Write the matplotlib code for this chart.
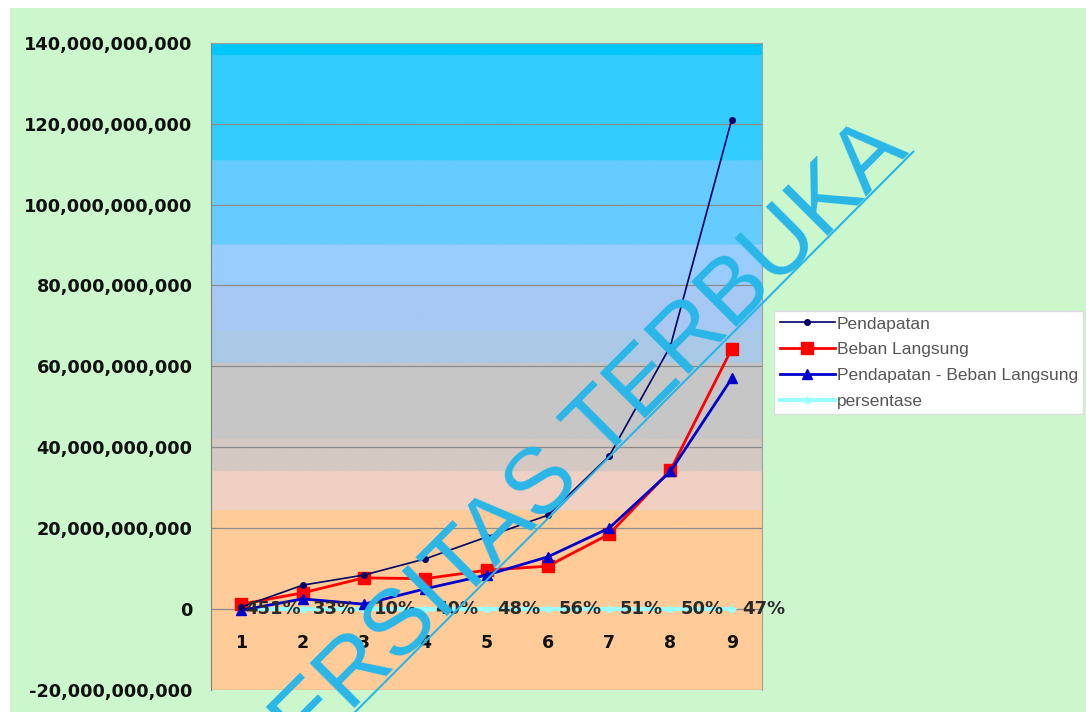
import numpy as np
import matplotlib.pyplot as plt
from matplotlib.colors import to_rgb
from matplotlib.ticker import FuncFormatter

plt.rcParams['font.family'] = ['Liberation Sans', 'DejaVu Sans']

periode = [1, 2, 3, 4, 5, 6, 7, 8, 9]
pendapatan = [0.5e9, 5.9e9, 8.4e9, 12.4e9, 17.8e9, 23.2e9, 37.8e9, 65.0e9, 121.0e9]
beban = [1.2e9, 4.0e9, 7.7e9, 7.5e9, 9.6e9, 10.6e9, 18.5e9, 34.3e9, 64.3e9]
selisih = [-0.3e9, 2.5e9, 1.2e9, 5.0e9, 8.4e9, 12.9e9, 20.0e9, 34.0e9, 57.0e9]
persentase = [4.51, 0.33, 0.10, 0.40, 0.48, 0.56, 0.51, 0.50, 0.47]
persen_label = ['451%', '33%', '10%', '40%', '48%', '56%', '51%', '50%', '47%']

fig = plt.figure(figsize=(10.86, 7.12), dpi=100)
fig.patch.set_facecolor('white')
# green chart area
bg = plt.Rectangle((0.009, 0), 0.991, 0.989, transform=fig.transFigure,
                   facecolor='#ccf7cc', edgecolor='none', zorder=-10)
fig.add_artist(bg)

ax = fig.add_axes([0.194, 0.031, 0.508, 0.909])
ymin, ymax = -20e9, 140e9

# banded gradient background (value from top, colour)
bands = [(140e9, '#00c8fb'), (137e9, '#33ccff'), (111e9, '#66ccff'), (90e9, '#99ccff'),
         (80e9, '#a6c8f2'), (69e9, '#a9c9e6'), (61e9, '#c6c6c6'), (42e9, '#d4c8c2'),
         (34e9, '#efd0c2'), (24.5e9, '#ffcc99')]
n = 400
vals = np.linspace(ymax, ymin, n)
img = np.zeros((n, 1, 3))
for i, v in enumerate(vals):
    col = bands[0][1]
    for top, c in bands:
        if v <= top:
            col = c
    img[i, 0] = to_rgb(col)
ax.imshow(img, extent=[0.5, 9.5, ymin, ymax], aspect='auto', zorder=0)

for yv in range(-20, 141, 20):
    ax.axhline(yv * 1e9, color='#8c8c8c', lw=0.9, zorder=1)

ax.plot(periode, pendapatan, color='#000066', marker='o', ms=4, lw=1.2, label='Pendapatan', zorder=4)
ax.plot(periode, beban, color='#ff0000', marker='s', ms=8, lw=2, label='Beban Langsung', zorder=3)
ax.plot(periode, selisih, color='#0000cc', marker='^', ms=7, lw=2,
        label='Pendapatan - Beban Langsung', zorder=3)
ax.plot(periode, persentase, color='#99ffff', marker='*', ms=6, lw=3, label='persentase', zorder=2)

for x, lab in zip(periode, persen_label):
    ax.text(x + 0.52, 0, lab, ha='center', va='center', fontsize=13, fontweight='bold',
            family='DejaVu Sans', color='#2a2a2a', zorder=5)

ax.set_xlim(0.5, 9.5)
ax.set_ylim(ymin, ymax)
ax.set_yticks(np.arange(-20e9, 141e9, 20e9))
ax.yaxis.set_major_formatter(FuncFormatter(lambda v, p: f'{v:,.0f}'))
ax.set_xticks(periode)
ax.spines['bottom'].set_position(('data', 0))
ax.spines['bottom'].set_visible(False)
for s in ['top', 'right']:
    ax.spines[s].set_color('#a0a0a0')
ax.spines['left'].set_color('#808080')
ax.tick_params(axis='x', length=0, pad=18, labelsize=12.5)
ax.tick_params(axis='y', length=0, pad=13, labelsize=12.8)
for lab in ax.get_xticklabels() + ax.get_yticklabels():
    lab.set_fontweight('bold')
    lab.set_family('DejaVu Sans')
    lab.set_color('#111111')

leg = fig.legend(loc='upper left', bbox_to_anchor=(0.713, 0.563), fontsize=12.5,
                 frameon=True, fancybox=False, borderpad=0.3, labelspacing=0.62,
                 handlelength=3.2, handletextpad=0.1, borderaxespad=0)
leg.get_frame().set_edgecolor('#dddddd')
leg.get_frame().set_alpha(1)
for t in leg.get_texts():
    t.set_color('#555555')

# watermark
fig.text(0.838, 0.785, 'UNIVERSITAS TERBUKA', rotation=45, rotation_mode='anchor',
         fontsize=67, color='#29b6e8', ha='right', va='baseline', zorder=10)
fig.add_artist(plt.Line2D([0.327, 0.841], [0.0, 0.787], color='#29b6e8', lw=1.5,
                          transform=fig.transFigure, zorder=10))

fig.savefig('out.png', dpi=100)
